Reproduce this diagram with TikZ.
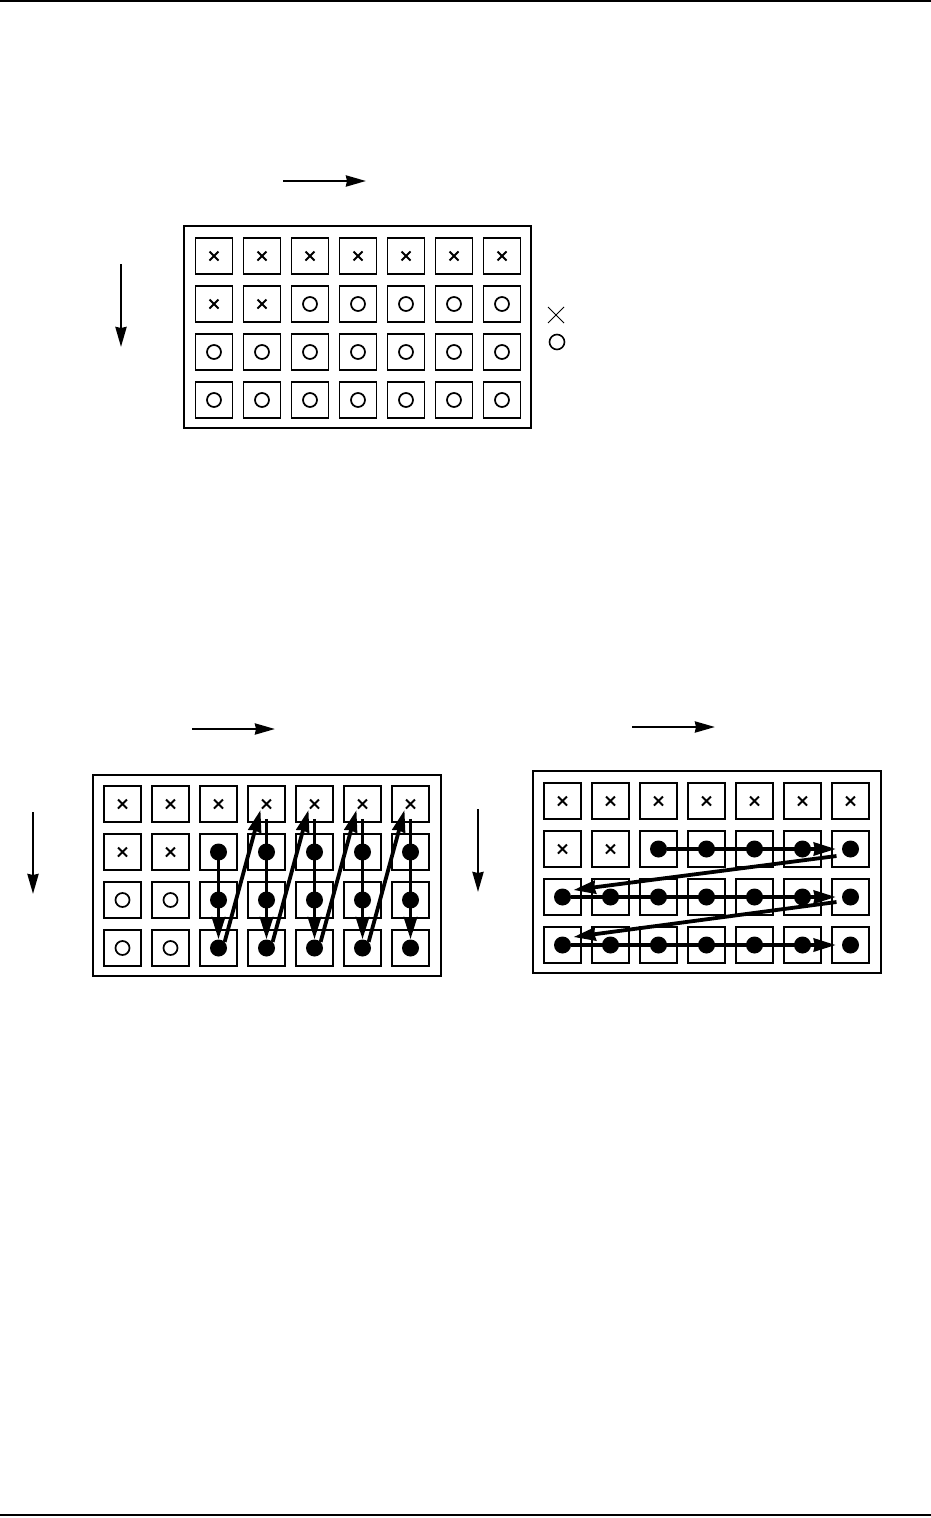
\documentclass[tikz,border=0pt]{standalone}
\usetikzlibrary{arrows.meta,calc}

\tikzset{
  cell/.style={draw, line width=1.8, minimum width=37, minimum height=36, inner sep=0},
  dot/.style={circle, fill, minimum size=17, inner sep=0},
  panel/.style={line width=2},
  dir/.style={-{Stealth[length=20pt,width=11pt,inset=1pt]}, line width=2.6},
  walk/.style={-{Stealth[length=22pt,width=13pt,inset=1pt]}, line width=3.8},
  xmark/.pic={\draw[line width=1.9] (-4.5,-4.5) -- (4.5,4.5) (-4.5,4.5) -- (4.5,-4.5);},
  omark/.pic={\draw[line width=1.7] (0,0) circle (7);}
}

\begin{document}
\begin{tikzpicture}[x=1pt, y=-1pt]
  \useasboundingbox (0,0) rectangle (931,1518);
  % page rules
  \draw[line width=2] (0,1) -- (931,1);
  \draw[line width=2] (0,1515) -- (931,1515);

  % ---- top: the marked grid ----
  \coordinate (T-h0) at (283,181);  \coordinate (T-h1) at (366,181);
  \coordinate (T-v0) at (121,264);  \coordinate (T-v1) at (121,347);
  \draw[dir] (T-h0) -- (T-h1);
  \draw[dir] (T-v0) -- (T-v1);
  \draw[panel] (184,226) rectangle (531,428);
  \foreach \r in {1,...,4}
    \foreach \c in {1,...,7}
      \node[cell] (T-\r-\c) at ({214+48*(\c-1)},{256+48*(\r-1)}) {};
  \foreach \c in {1,...,7} \pic at (T-1-\c) {xmark};
  \foreach \c in {1,2} \pic at (T-2-\c) {xmark};
  \foreach \c in {3,...,7} \pic at (T-2-\c) {omark};
  \foreach \r in {3,4}
    \foreach \c in {1,...,7} \pic at (T-\r-\c) {omark};
  % legend
  \draw[line width=0.9] (548,307) -- (564,323) (548,323) -- (564,307);
  \draw[line width=1.6] (557,342) circle (7.5);

  % ---- bottom left: column by column ----
  \coordinate (L-h0) at (192,729);  \coordinate (L-h1) at (275,729);
  \coordinate (L-v0) at (33,812);   \coordinate (L-v1) at (33,894);
  \draw[dir] (L-h0) -- (L-h1);
  \draw[dir] (L-v0) -- (L-v1);
  \draw[panel] (93,775) rectangle (441,976);
  \foreach \r in {1,...,4}
    \foreach \c in {1,...,7}
      \node[cell] (L-\r-\c) at ({122.5+48*(\c-1)},{804+48*(\r-1)}) {};
  \foreach \c in {1,...,7} \pic at (L-1-\c) {xmark};
  \foreach \c in {1,2} \pic at (L-2-\c) {xmark};
  \foreach \r in {3,4}
    \foreach \c in {1,2} \pic at (L-\r-\c) {omark};
  \foreach \r in {2,3,4}
    \foreach \c in {3,...,7}
      \node[dot] (Ld-\r-\c) at (L-\r-\c) {};
  \draw[walk] (Ld-2-3.center) -- (Ld-4-3.north);
  \foreach \c in {4,...,7}
    \draw[walk] ($(L-1-\c.south)+(0,-4)$) -- (Ld-4-\c.north);
  \foreach \c [evaluate=\c as \n using int(\c+1)] in {3,...,6}
    \draw[walk] (Ld-4-\c.north east) -- ($(L-1-\n.center)+(-6,6)$);

  % ---- bottom right: row by row ----
  \coordinate (R-h0) at (632,727);  \coordinate (R-h1) at (715,727);
  \coordinate (R-v0) at (478,809);  \coordinate (R-v1) at (478,892);
  \draw[dir] (R-h0) -- (R-h1);
  \draw[dir] (R-v0) -- (R-v1);
  \draw[panel] (533,771) rectangle (881,973);
  \foreach \r in {1,...,4}
    \foreach \c in {1,...,7}
      \node[cell] (R-\r-\c) at ({562.5+48*(\c-1)},{801+48*(\r-1)}) {};
  \foreach \c in {1,...,7} \pic at (R-1-\c) {xmark};
  \foreach \c in {1,2} \pic at (R-2-\c) {xmark};
  \foreach \c in {3,...,7} \node[dot] (Rd-2-\c) at (R-2-\c) {};
  \foreach \r in {3,4}
    \foreach \c in {1,...,7}
      \node[dot] (Rd-\r-\c) at (R-\r-\c) {};
  \draw[walk] (Rd-2-3) -- ($(Rd-2-7.west)+(-6,0)$);
  \draw[walk] (Rd-3-1) -- ($(Rd-3-7.west)+(-6,0)$);
  \draw[walk] (Rd-4-1) -- ($(Rd-4-7.west)+(-6,0)$);
  \draw[walk] ($(Rd-2-7)+(-14,7)$) -- ($(Rd-3-1)+(11,-7)$);
  \draw[walk] ($(Rd-3-7)+(-14,5)$) -- ($(Rd-4-1)+(11,-8)$);
\end{tikzpicture}
\end{document}
